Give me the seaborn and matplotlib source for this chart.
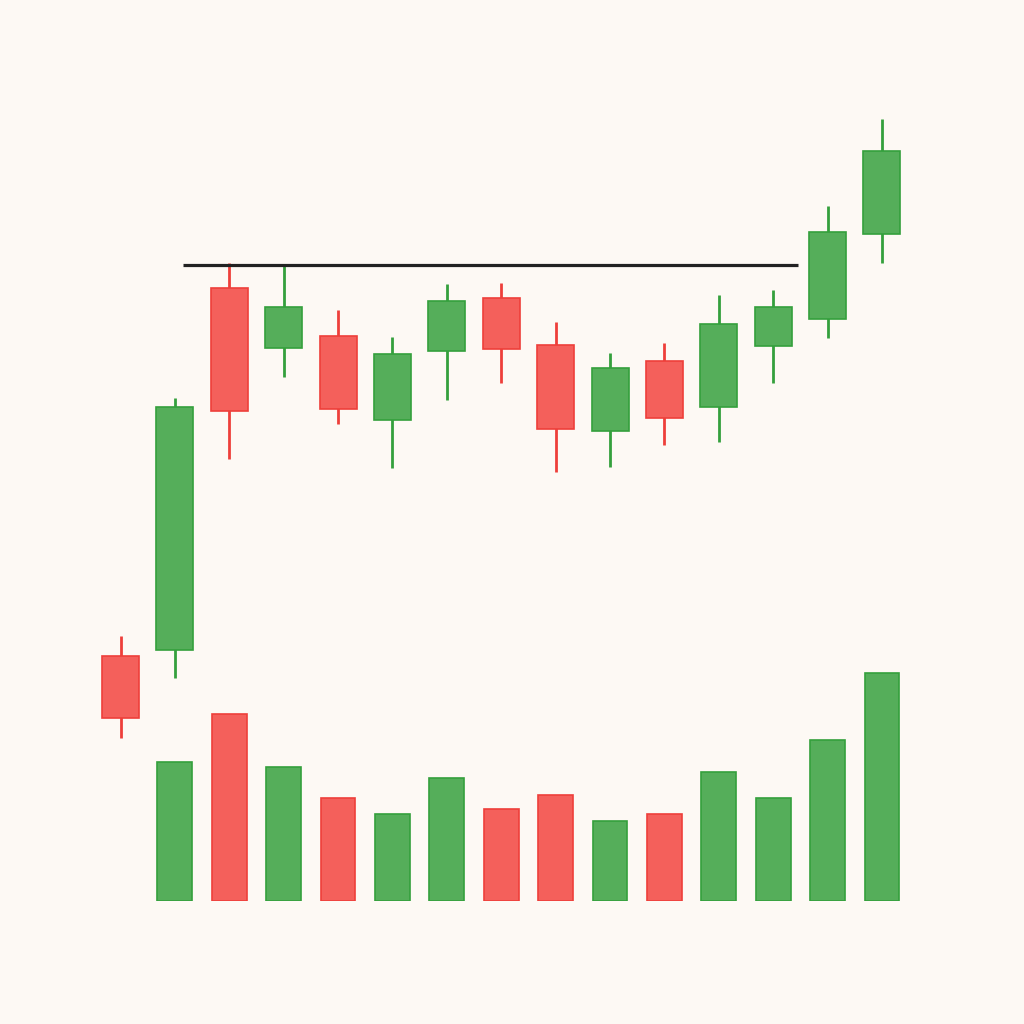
import numpy as np
import pandas as pd
import matplotlib
matplotlib.use("Agg")
import matplotlib.pyplot as plt
import seaborn as sns

# ---- data ----
opens  = [34.4, 35.0, 71.2, 65.2, 66.4, 58.0, 64.9, 70.2, 65.5, 56.9, 63.9, 59.3, 65.4, 68.1, 76.6]
highs  = [36.4, 60.2, 73.7, 73.6, 69.0, 66.3, 71.6, 71.7, 67.8, 64.7, 65.7, 70.5, 71.0, 79.4, 88.1]
lows   = [26.2, 32.2, 54.1, 62.3, 57.6, 53.2, 60.0, 61.7, 52.8, 53.3, 55.5, 55.8, 61.7, 66.2, 73.7]
closes = [28.2, 59.3, 58.9, 69.3, 59.1, 64.6, 69.9, 65.1, 57.1, 63.2, 58.2, 67.6, 69.3, 76.8, 84.9]
vol_idx = [1, 2, 3, 4, 5, 6, 7, 8, 9, 10, 11, 12, 13, 14]
volumes = [139, 187, 134, 103, 87, 123, 92, 106, 80, 87, 129, 103, 161, 228]
resistance_level = 73.5
resistance_start, resistance_end = 1.15, 12.46

BG = "#FDF9F4"
GREEN, GREEN_EDGE = "#55AE5A", "#34A03C"
RED, RED_EDGE = "#F4605B", "#EE3F3A"

sns.set_theme(style="white")
plt.rcParams["font.family"] = ["DejaVu Sans"]

n = len(opens)
idx = np.arange(n)
up = [c >= o for o, c in zip(opens, closes)]

fig = plt.figure(figsize=(10.24, 10.24), dpi=100)
fig.patch.set_facecolor(BG)

step = 54.39
x0 = 120.5
xlim = (-x0 / step, (1024 - x0) / step)

# price axes covering the whole figure
ax = fig.add_axes([0, 0, 1, 1])
ax.set_facecolor("none")
ax.set_xlim(*xlim)
ax.set_ylim(-2.4, 100)
ax.axis("off")

# volume axes
vax = fig.add_axes([0, 123 / 1024, 1, 307.2 / 1024])
vax.set_facecolor("none")
vdf = pd.DataFrame({
    "x": vol_idx,
    "vol": volumes,
    "dir": ["up" if up[i] else "down" for i in vol_idx],
})
sns.barplot(data=vdf, x="x", y="vol", hue="dir", native_scale=True,
            palette={"up": GREEN, "down": RED}, dodge=False, width=0.64,
            legend=False, ax=vax, linewidth=1.2, saturation=1)
for p, d in zip(vax.patches, []):
    pass
for patch in vax.patches:
    fc = patch.get_facecolor()
    patch.set_edgecolor(GREEN_EDGE if fc[1] > fc[0] else RED_EDGE)
vax.set_xlim(*xlim)
vax.set_ylim(0, 307.2)
vax.axis("off")
vax.set_zorder(0)
ax.set_zorder(1)

# candles
for i in range(n):
    fc = GREEN if up[i] else RED
    ec = GREEN_EDGE if up[i] else RED_EDGE
    ax.vlines(idx[i], lows[i], highs[i], color=ec, linewidth=2.0, zorder=2)
    lo = min(opens[i], closes[i])
    hi = max(opens[i], closes[i])
    ax.bar(idx[i], hi - lo, bottom=lo, width=0.68, color=fc,
           edgecolor=ec, linewidth=1.2, zorder=3)

# resistance line
ax.hlines(resistance_level, resistance_start, resistance_end,
          color="#222222", linewidth=2.3, zorder=4)

fig.savefig("out.png", dpi=100, facecolor=BG)
